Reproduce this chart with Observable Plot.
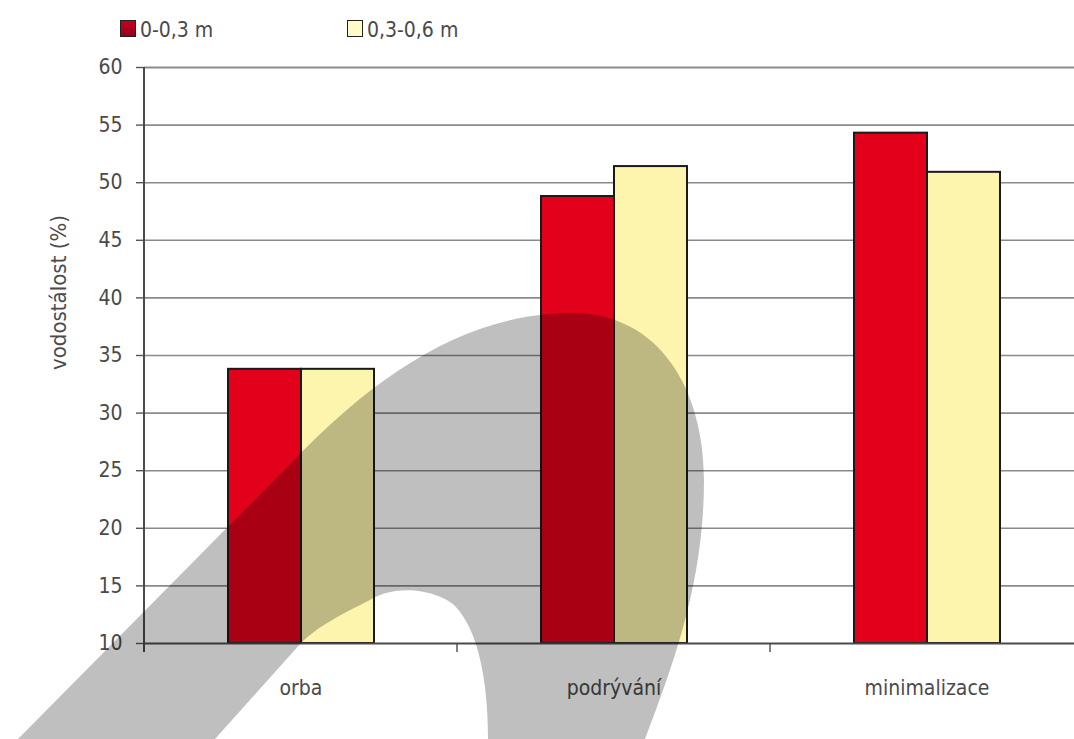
<!DOCTYPE html>
<html>
<head>
<meta charset="utf-8">
<script src="https://cdn.jsdelivr.net/npm/d3@7"></script>
<script src="https://cdn.jsdelivr.net/npm/@observablehq/plot@0.6"></script>
<style>
  html, body { margin: 0; padding: 0; background: #fff; }
  body { width: 1074px; height: 739px; overflow: hidden; position: relative;
         font-family: "Liberation Sans Narrow", "DejaVu Sans Condensed", "Arial Narrow", sans-serif; color: #4a4a4a; }
  #legend { position: relative; height: 50px; }
  .key { position: absolute; top: 20px; width: 14px; height: 15px; border: 1px solid #222; }
  .key-label { position: absolute; top: 19px; font-size: 21px; line-height: 22px; white-space: nowrap; }
  #chart { position: relative; }
  #swoosh { position: absolute; left: 0; top: 0; pointer-events: none; }
</style>
</head>
<body>
<div id="legend"></div>
<div id="chart"></div>
<svg id="swoosh" width="1074" height="739" viewBox="0 0 1074 739">
  <!-- grey arch logo printed over the chart -->
  <path fill="#000" fill-opacity="0.25" fill-rule="evenodd"
        d="M 18 739 L 290 464 C 380 370, 470 313, 572 313 C 660 313, 704 390, 704 480 C 704 580, 675 660, 645 739 L 488 739 C 488 680, 478 630, 455 606 C 440 592, 400 582, 370 600 C 340 615, 320 625, 301 643 L 215 739 Z"/>
</svg>
<script>
// Water stability of soil aggregates by tillage method and depth
const categories = ["orba", "podrývání", "minimalizace"];
const series = ["0-0,3 m", "0,3-0,6 m"];
const shallow = [33.8, 48.8, 54.3];   // 0-0,3 m
const deep = [33.8, 51.4, 50.9];      // 0,3-0,6 m
const yTicks = [10, 15, 20, 25, 30, 35, 40, 45, 50, 55, 60];
const yLabel = "vodostálost (%)";

const barColors = ["#e3001b", "#fdf4ae"];
const keyColors = ["linear-gradient(#c4001c, #98001e)", "#fffbc9"];
const FONT = '"Liberation Sans Narrow", "DejaVu Sans Condensed", "Arial Narrow", sans-serif';

const rows = categories.flatMap((c, i) => [
  {category: c, series: series[0], value: shallow[i]},
  {category: c, series: series[1], value: deep[i]}
]);

// legend
const legend = document.getElementById("legend");
const keyLeft = [120, 347];
series.forEach((s, i) => {
  const k = document.createElement("div");
  k.className = "key";
  k.style.left = keyLeft[i] + "px";
  k.style.background = keyColors[i];
  legend.appendChild(k);
  const t = document.createElement("div");
  t.className = "key-label";
  t.style.left = (keyLeft[i] + 20) + "px";
  t.textContent = s;
  legend.appendChild(t);
});

const plot = Plot.plot({
  width: 1074,
  height: 689,
  marginLeft: 144,
  marginRight: 0,
  marginTop: 17,
  marginBottom: 96,
  style: {fontFamily: FONT, fontSize: "21px", color: "#4a4a4a", background: "transparent", overflow: "visible"},
  fx: {domain: categories, range: [144, 1083], padding: 0, label: null},
  x: {domain: series, paddingInner: 0, paddingOuter: 1.115, axis: null},
  y: {domain: [yTicks[0], yTicks[yTicks.length - 1]]},
  color: {domain: series, range: barColors},
  marks: [
    Plot.ruleY(yTicks.slice(1, -1), {stroke: "#8a8a8a", strokeWidth: 1.6}),
    Plot.ruleY([yTicks[yTicks.length - 1]], {stroke: "#8a8a8a", strokeWidth: 2.2}),
    Plot.barY(rows, {
      fx: "category", x: "series", y1: yTicks[0], y2: "value",
      fill: "series", stroke: "#1a1a1a", strokeWidth: 2
    }),
    Plot.ruleY([yTicks[0]], {stroke: "#4a4a4a", strokeWidth: 2}),
    Plot.axisY(yTicks, {tickSize: 8, tickPadding: 14, label: null, stroke: "#555", strokeWidth: 1.4}),
    Plot.axisFx({anchor: "bottom", tickSize: 0, tickPadding: 37, label: null}),
    Plot.text([yLabel], {
      frameAnchor: "left", facet: "super", textAnchor: "middle", rotate: -90,
      dx: -86, dy: -63, fontSize: 22, fill: "#4a4a4a"
    })
  ]
});

document.getElementById("chart").appendChild(plot);

// axis line and tick marks between categories, placed with the plot's scales
const fx = plot.scale("fx");
const y = plot.scale("y");
const svg = d3.select(plot);
const y0 = y.apply(yTicks[0]);
const yTop = y.apply(yTicks[yTicks.length - 1]);
const g = svg.append("g").attr("stroke", "#4a4a4a").attr("stroke-width", 2);
g.append("line")
  .attr("x1", fx.apply(categories[0])).attr("x2", fx.apply(categories[0]))
  .attr("y1", yTop).attr("y2", y0 + 9);
categories.slice(1).forEach(c => {
  g.append("line")
    .attr("stroke-width", 1.4)
    .attr("x1", fx.apply(c)).attr("x2", fx.apply(c))
    .attr("y1", y0).attr("y2", y0 + 9);
});
</script>
</body>
</html>
